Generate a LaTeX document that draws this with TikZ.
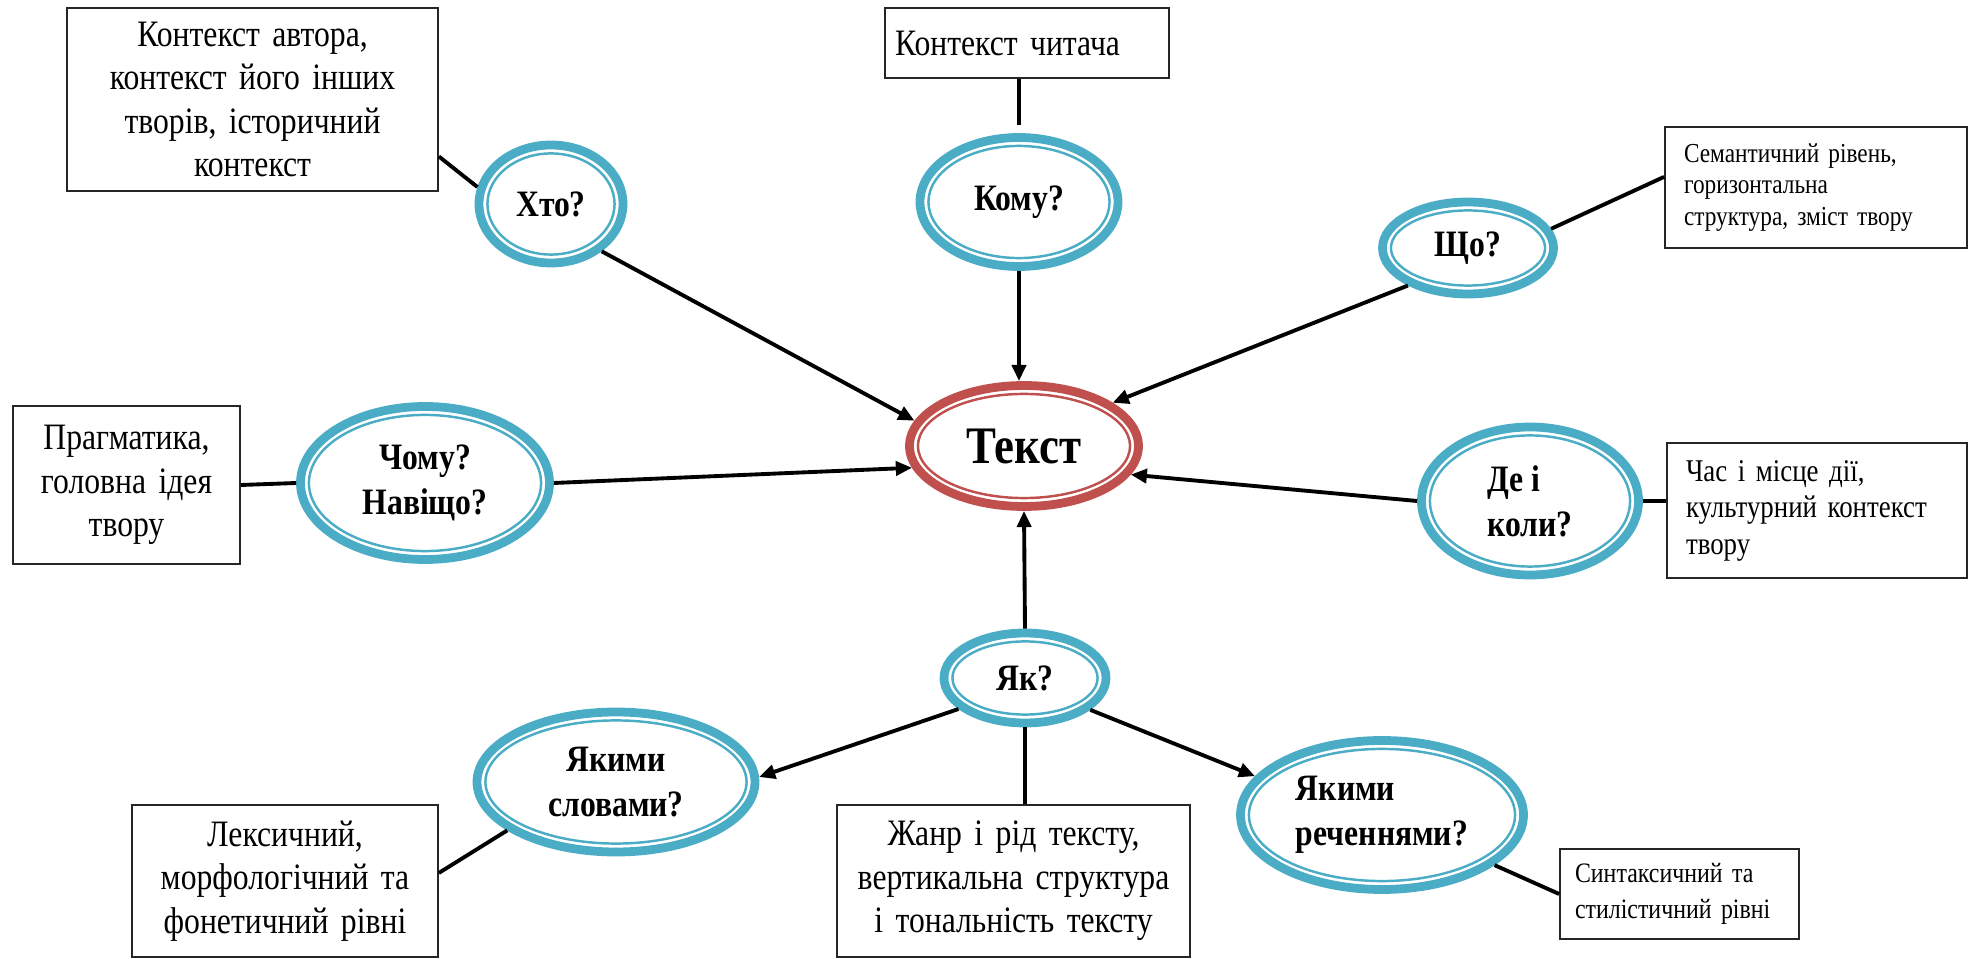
\documentclass[tikz,border=0pt]{standalone}
\usepackage{fontspec}
\setmainfont{Liberation Serif}[FakeStretch=0.85]
\usetikzlibrary{arrows.meta,calc,shapes.geometric}
\definecolor{AskBlue}{HTML}{4BACC6}
\definecolor{TextRed}{HTML}{C0504D}

\begin{document}
\begin{tikzpicture}[
    ringnode/.style={ellipse, draw=#1, line width=2.5pt, inner sep=0pt, align=center,
      font=\bfseries\fontsize{10.6}{12.8}\selectfont,
      path picture={\draw[#1, line width=0.7pt] let \p1=($(path picture bounding box.north east)-(path picture bounding box.center)$) in (path picture bounding box.center) ellipse ({\x1-2.4pt} and {\y1-2.4pt});}},
    askring/.style={ringnode=AskBlue},
    infobox/.style={draw=black!85, line width=0.5pt, align=center, inner xsep=0.1cm, inner ysep=0pt, font=\fontsize{10.6}{12.4}\selectfont},
    notebox/.style={draw=black!85, line width=0.5pt, align=left, inner xsep=0.19cm, inner ysep=0pt, font=\fontsize{9}{10.4}\selectfont},
    flow/.style={-{Triangle[length=4.6pt,width=4pt]}, line width=1.1pt},
    link/.style={line width=1.1pt}
  ]
    \useasboundingbox (0,0) rectangle (19.73,-9.59);

    % centre
    \node[ringnode=TextRed, minimum width=2.29cm, minimum height=1.21cm, font=\bfseries\fontsize{15}{16}\selectfont] (tekst) at (10.24,-4.46) {Текст};

    % questions
    \node[askring, minimum width=1.44cm, minimum height=1.18cm] (who) at (5.51,-2.04) {Хто?};
    \node[askring, minimum width=1.98cm, minimum height=1.29cm] (komu) at (10.19,-2.02) {Кому?};
    \node[askring, minimum width=1.71cm, minimum height=0.92cm] (scho) at (14.68,-2.48) {Що?};
    \node[askring, minimum width=2.49cm, minimum height=1.53cm] (chomu) at (4.25,-4.83) {Чому?\\Навіщо?};
    \node[askring, minimum width=2.17cm, minimum height=1.48cm, align=left] (de) at (15.30,-5.01) {Де і\\коли?};
    \node[askring, minimum width=1.62cm, minimum height=0.90cm] (yak) at (10.25,-6.78) {Як?};
    \node[askring, minimum width=2.78cm, minimum height=1.40cm] (slova) at (6.16,-7.82) {Якими\\словами?};
    \node[askring, minimum width=2.83cm, minimum height=1.49cm, align=left] (rech) at (13.82,-8.15) {Якими\\реченнями?};

    % contexts
    \node[infobox, minimum width=3.71cm, minimum height=1.83cm, text width=3.5cm] (author) at (2.525,-0.995) {Контекст автора,\\контекст його інших\\творів, історичний\\контекст};
    \node[infobox, align=left, minimum width=2.84cm, minimum height=0.70cm, text width=2.64cm] (reader) at (10.27,-0.43) {Контекст читача};
    \node[notebox, minimum width=3.02cm, minimum height=1.21cm, text width=2.64cm, font=\fontsize{7.8}{8.9}\selectfont] (sem) at (18.16,-1.875) {Семантичний рівень,\\горизонтальна\\структура, зміст твору};
    \node[infobox, minimum width=2.27cm, minimum height=1.58cm, text width=2.07cm] (prag) at (1.265,-4.85) {Прагматика,\\головна ідея\\твору};
    \node[notebox, minimum width=3.0cm, minimum height=1.35cm, text width=2.62cm] (chas) at (18.17,-5.105) {Час і місце дії,\\культурний контекст\\твору};
    \node[infobox, minimum width=3.53cm, minimum height=1.52cm, text width=3.33cm] (zhanr) at (10.135,-8.81) {Жанр і рід тексту,\\вертикальна структура\\і тональність тексту};
    \node[infobox, minimum width=3.06cm, minimum height=1.52cm, text width=2.86cm] (lex) at (2.85,-8.81) {Лексичний,\\морфологічний та\\фонетичний рівні};
    \node[notebox, minimum width=2.39cm, minimum height=0.90cm, text width=2.09cm, inner xsep=0.15cm, font=\fontsize{8}{10.2}\selectfont] (synt) at (16.795,-8.94) {Синтаксичний та\\стилістичний рівні};

    % links
    \draw[link] (author.-17) -- (who.167);
    \draw[link] (reader.south -| komu.north) -- ([yshift=0.08cm]komu.north);
    \draw[link] (scho.13) -- (sem.176);
    \draw[link] (prag.east) -- (chomu.west);
    \draw[link] (de.east) -- (de.east -| chas.west);
    \draw[link] (yak.south) -- (yak.south |- zhanr.north);
    \draw[link] (slova.204) -- (lex.3);
    \draw[link] (rech.-24) -- (synt.west);

    % arrows
    \draw[flow] (who.-43) -- (tekst.167);
    \draw[flow] (komu.south) -- (komu.south |- tekst.north);
    \draw[flow] (scho.212) -- (tekst.26);
    \draw[flow] (chomu.east) -- (tekst.191);
    \draw[flow] (de.west) -- (tekst.345);
    \draw[flow] (yak.north) -- (tekst.south);
    \draw[flow] (yak.205) -- (slova.2);
    \draw[flow] (yak.334) -- (rech.163);
  \end{tikzpicture}
\end{document}
